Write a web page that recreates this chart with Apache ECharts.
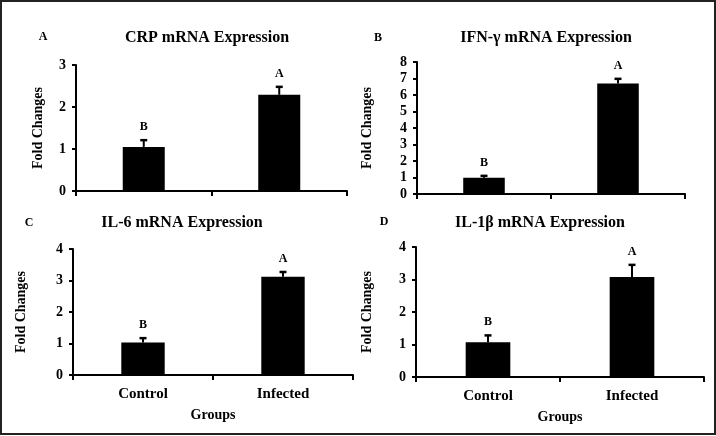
<!DOCTYPE html>
<html>
<head>
<meta charset="utf-8">
<style>
  html, body { margin: 0; padding: 0; background: #fff; }
  #chart { width: 716px; height: 436px; }
</style>
<script src="https://cdn.jsdelivr.net/npm/echarts@6/dist/echarts.min.js"></script>
</head>
<body>
<div id="chart"></div>
<script>
const categories = ['Control', 'Infected'];
const letters = ['B', 'A'];

const crpMean = [1.05, 2.29];
const crpErr = [0.16, 0.19];
const ifnMean = [0.99, 6.70];
const ifnErr = [0.11, 0.28];
const il6Mean = [1.03, 3.12];
const il6Err = [0.14, 0.15];
const il1bMean = [1.07, 3.08];
const il1bErr = [0.21, 0.37];

const panelTitles = ['CRP mRNA Expression', 'IFN-\u03b3 mRNA Expression', 'IL-6 mRNA Expression', 'IL-1\u03b2 mRNA Expression'];
const panelLetters = ['A', 'B', 'C', 'D'];
const yMax = [3, 8, 4, 4];

const FONT = '"Liberation Serif", "Times New Roman", serif';

const panels = [
  { mean: crpMean, err: crpErr, grid: { left: 76, right: 369, top: 65, bottom: 245 }, nameGap: 31, showX: false,
    title: [207, 30], letter: [43, 31] },
  { mean: ifnMean, err: ifnErr, grid: { left: 417, right: 31, top: 62, bottom: 242 }, nameGap: 43, showX: false,
    title: [546, 30], letter: [378, 32] },
  { mean: il6Mean, err: il6Err, grid: { left: 73, right: 363, top: 249, bottom: 61 }, nameGap: 45, showX: true,
    title: [182, 215], letter: [29, 217] },
  { mean: il1bMean, err: il1bErr, grid: { left: 416, right: 12, top: 247, bottom: 59 }, nameGap: 42, showX: true,
    title: [540, 215], letter: [384, 216] }
];

const grids = [], xAxes = [], yAxes = [], series = [], titles = [];

panels.forEach((p, i) => {
  grids.push(p.grid);
  titles.push({
    text: panelTitles[i], left: p.title[0], top: p.title[1], textAlign: 'center', padding: 0,
    textStyle: { fontFamily: FONT, fontWeight: 'bold', fontSize: 16, color: '#000' }
  });
  titles.push({
    text: panelLetters[i], left: p.letter[0], top: p.letter[1], textAlign: 'center', padding: 0,
    textStyle: { fontFamily: FONT, fontWeight: 'bold', fontSize: 12, color: '#000' }
  });
  xAxes.push({
    type: 'category', gridIndex: i, data: categories, boundaryGap: true,
    axisLine: { lineStyle: { color: '#000', width: 2 } },
    axisTick: { show: true, length: 5, lineStyle: { color: '#000', width: 2 } },
    axisLabel: { show: p.showX, margin: 12, fontFamily: FONT, fontWeight: 'bold', fontSize: 15, color: '#000' },
    name: p.showX ? 'Groups' : '', nameLocation: 'middle', nameGap: 33,
    nameTextStyle: { fontFamily: FONT, fontWeight: 'bold', fontSize: 14, color: '#000' },
    splitLine: { show: false }
  });
  yAxes.push({
    type: 'value', gridIndex: i, min: 0, max: yMax[i], interval: 1,
    axisLine: { show: true, lineStyle: { color: '#000', width: 2 } },
    axisTick: { show: true, length: 4, lineStyle: { color: '#000', width: 2 } },
    axisLabel: { margin: 10, fontFamily: FONT, fontWeight: 'bold', fontSize: 14, color: '#000' },
    splitLine: { show: false },
    name: 'Fold Changes', nameLocation: 'middle', nameGap: p.nameGap,
    nameTextStyle: { fontFamily: FONT, fontWeight: 'bold', fontSize: 14, color: '#000' }
  });
  series.push({
    type: 'bar', xAxisIndex: i, yAxisIndex: i, data: p.mean, barWidth: '31%',
    itemStyle: { color: '#000' }, silent: true, animation: false
  });
  const errData = p.mean.map((m, k) => [k, m, m + p.err[k], letters[k]]);
  series.push({
    type: 'custom', xAxisIndex: i, yAxisIndex: i, data: errData, clip: false, animation: false, silent: true,
    renderItem: function (params, api) {
      const x = api.value(0);
      const lo = api.coord([x, api.value(1)]);
      const hi = api.coord([x, api.value(2)]);
      const letter = letters[params.dataIndex];
      return {
        type: 'group',
        children: [
          { type: 'line', shape: { x1: lo[0], y1: lo[1], x2: hi[0], y2: hi[1] }, style: { stroke: '#000', lineWidth: 2 } },
          { type: 'line', shape: { x1: hi[0] - 3.5, y1: hi[1], x2: hi[0] + 3.5, y2: hi[1] }, style: { stroke: '#000', lineWidth: 2.5 } },
          { type: 'text', x: hi[0], y: hi[1] - 13, style: { text: letter, fill: '#000', font: 'bold 12px ' + FONT, textAlign: 'center', textVerticalAlign: 'middle' } }
        ]
      };
    }
  });
});

const chart = echarts.init(document.getElementById('chart'), null, { renderer: 'canvas' });
chart.setOption({
  animation: false,
  backgroundColor: '#fff',
  title: titles,
  grid: grids,
  xAxis: xAxes,
  yAxis: yAxes,
  series: series,
  graphic: [{
    type: 'rect', shape: { x: 1, y: 1, width: 714, height: 433 },
    style: { fill: 'none', stroke: '#222', lineWidth: 2 }, silent: true
  }]
});
</script>
</body>
</html>
